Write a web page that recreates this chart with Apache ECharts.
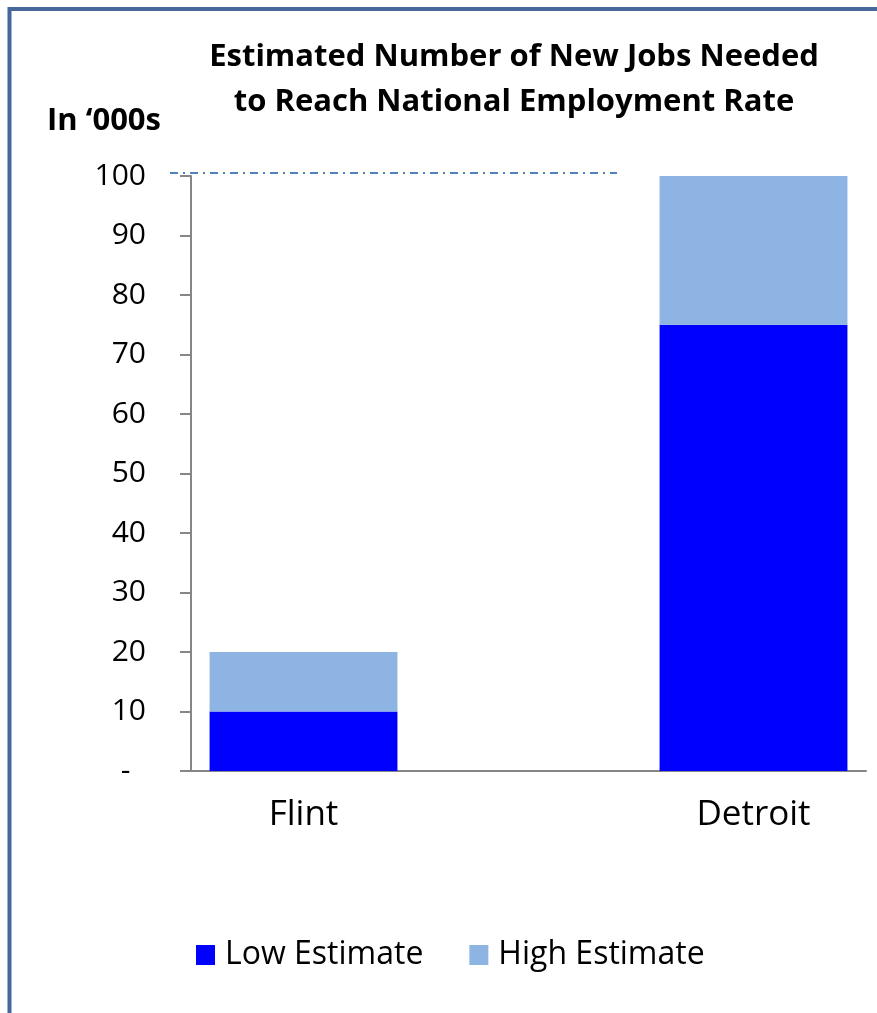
<!DOCTYPE html>
<html>
<head>
<meta charset="utf-8">
<script src="https://cdn.jsdelivr.net/npm/echarts@6/dist/echarts.min.js"></script>
<style>
  html, body { margin: 0; padding: 0; background: #fff; }
  #chart { width: 877px; height: 1013px; }
</style>
</head>
<body>
<div id="chart"></div>
<script>
// Jobs needed (thousands) to reach the national employment rate
const cities = ['Flint', 'Detroit'];
const lowEstimate = [10, 75];
const highEstimate = [20, 100];
const yTicks = [0, 10, 20, 30, 40, 50, 60, 70, 80, 90, 100];

const FONT = '"Open Sans", "Liberation Sans", sans-serif';

// The two cities sit in the first and third slots of the category axis,
// leaving an empty slot between them.
const axisCats = [cities[0], '', cities[1]];
function spread(arr) { return [arr[0], null, arr[1]]; }
const lowData = spread(lowEstimate);
const extraData = spread(highEstimate.map((h, i) => h - lowEstimate[i]));

const chart = echarts.init(document.getElementById('chart'));

const option = {
  animation: false,
  backgroundColor: '#ffffff',
  title: {
    text: 'Estimated Number of New Jobs Needed\nto Reach National Employment Rate',
    left: 509,
    top: 30,
    textAlign: 'center',
    textStyle: {
      fontFamily: FONT,
      fontWeight: 'bold',
      fontSize: 31,
      lineHeight: 45,
      color: '#000'
    }
  },
  legend: {
    data: ['Low Estimate', 'High Estimate'],
    left: 191,
    top: 934,
    icon: 'rect',
    itemWidth: 19,
    itemHeight: 20,
    itemGap: 46,
    textStyle: {
      fontFamily: FONT,
      fontSize: 32,
      color: '#000',
      padding: [0, 0, 0, 5]
    }
  },
  grid: {
    left: 191,
    right: 11,
    top: 176,
    bottom: 242,
    containLabel: false
  },
  xAxis: {
    type: 'category',
    data: axisCats,
    axisLine: { show: true, lineStyle: { color: '#868686', width: 2 } },
    axisTick: { show: false },
    axisLabel: {
      fontFamily: FONT,
      fontSize: 35,
      color: '#000',
      margin: 27,
      interval: 0
    },
    splitLine: { show: false }
  },
  yAxis: {
    type: 'value',
    min: yTicks[0],
    max: yTicks[yTicks.length - 1],
    interval: yTicks[1] - yTicks[0],
    axisLine: { show: true, lineStyle: { color: '#868686', width: 2 } },
    axisTick: { show: true, length: 11, lineStyle: { color: '#868686', width: 2 } },
    axisLabel: {
      fontFamily: FONT,
      fontSize: 30,
      color: '#000',
      margin: 45,
      formatter: v => (v === 0 ? '-  ' : String(v))
    },
    splitLine: { show: false }
  },
  series: [
    {
      name: 'Low Estimate',
      type: 'bar',
      stack: 'jobs',
      data: lowData,
      barWidth: '83.5%',
      itemStyle: { color: '#0000ff' }
    },
    {
      name: 'High Estimate',
      type: 'bar',
      stack: 'jobs',
      data: extraData,
      barWidth: '83.5%',
      itemStyle: { color: '#8eb4e3' }
    }
  ]
};

chart.setOption(option);

// Reference line at the top of the scale, plus the frame and unit label
const yTop = chart.convertToPixel({ yAxisIndex: 0 }, yTicks[yTicks.length - 1]) - 3;

chart.setOption({
  graphic: [
    {
      type: 'rect',
      shape: { x: 9.5, y: 9, width: 1000, height: 1200 },
      style: { fill: 'none', stroke: '#44689a', lineWidth: 4 },
      silent: true
    },
    {
      type: 'line',
      shape: { x1: 170, y1: yTop, x2: 617, y2: yTop },
      style: { stroke: '#4f81bd', lineWidth: 2, lineDash: [8, 5, 2, 5] },
      silent: true
    },
    {
      type: 'text',
      x: 47,
      y: 121,
      style: {
        text: 'In \u2018000s',
        font: 'bold 31px ' + FONT,
        fill: '#000',
        textAlign: 'left',
        textVerticalAlign: 'middle'
      },
      silent: true
    }
  ]
});
</script>
</body>
</html>
